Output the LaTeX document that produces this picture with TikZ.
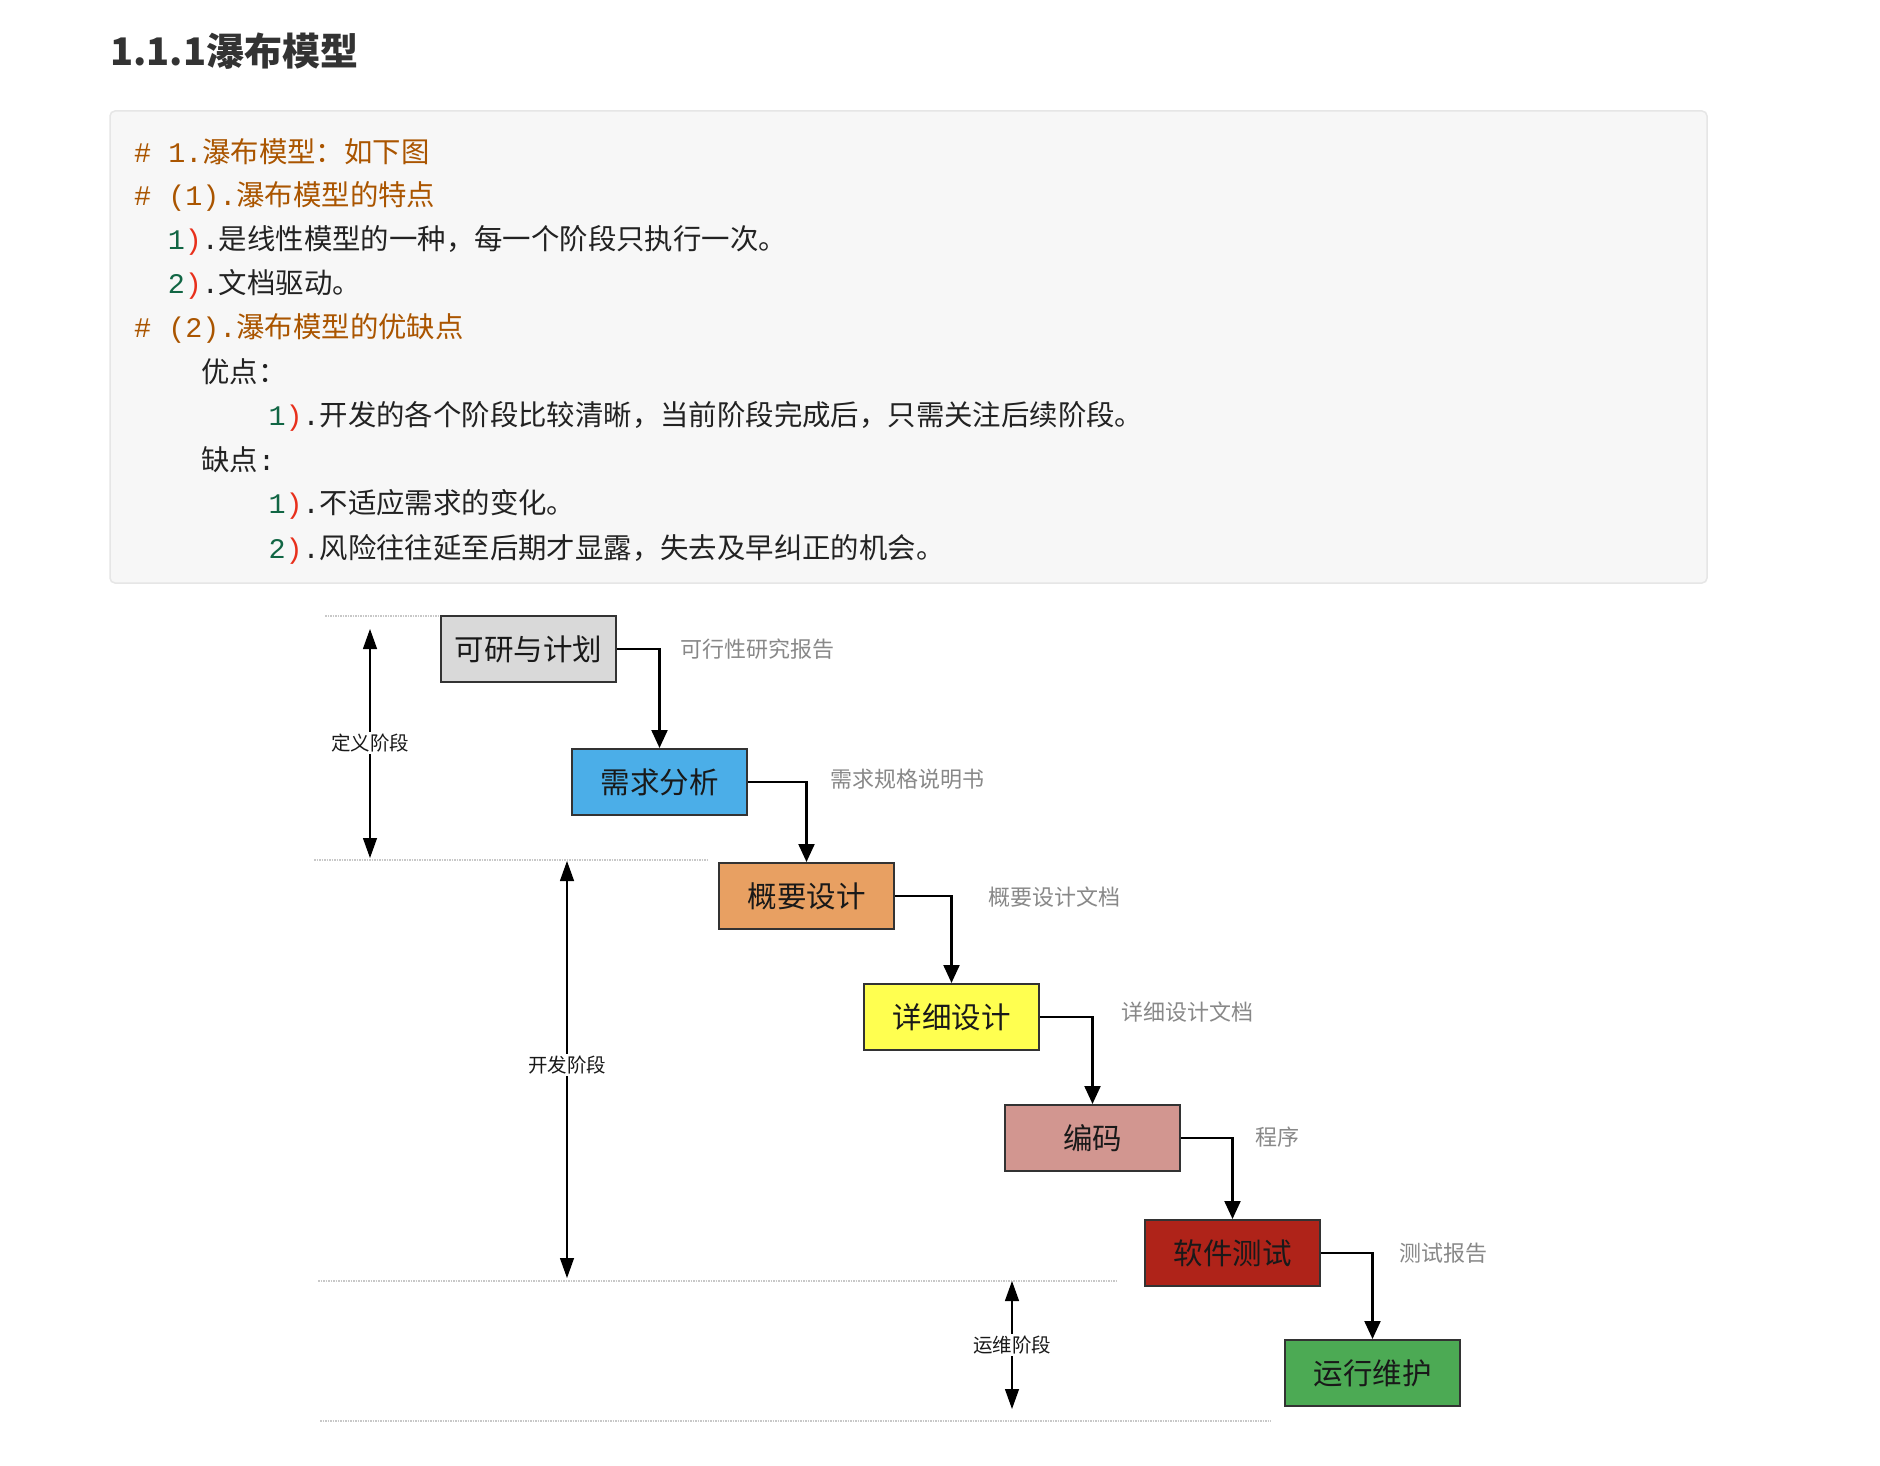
\documentclass[tikz,border=0pt]{standalone}
\usepackage{fontspec}
\setmainfont{Noto Sans CJK SC}
\setmonofont{Liberation Mono}
\usetikzlibrary{arrows.meta}
\definecolor{cmt}{HTML}{AA5500}
\definecolor{num}{HTML}{116644}
\definecolor{brk}{HTML}{E8301C}
\definecolor{codetxt}{HTML}{222222}
\definecolor{codebg}{HTML}{F7F7F7}
\definecolor{codebd}{HTML}{E6E6E6}
\definecolor{titlec}{HTML}{333333}
\definecolor{boxbd}{HTML}{333333}
\definecolor{docgray}{HTML}{888888}
\definecolor{sepgray}{HTML}{C8C8C8}
\definecolor{cgray}{HTML}{D9D9D9}
\definecolor{cblue}{HTML}{4BAEE8}
\definecolor{corange}{HTML}{E8A062}
\definecolor{cyellow}{HTML}{FFFF50}
\definecolor{cpink}{HTML}{D29690}
\definecolor{cred}{HTML}{AF2319}
\definecolor{cgreen}{HTML}{4CAA54}
\newcommand{\fsz}[1]{\fontsize{#1}{#1}\selectfont}
\begin{document}
\begin{tikzpicture}[x=1pt,y=-1pt,
  codeline/.style={anchor=west, inner sep=0pt, text=codetxt, font=\fsz{28.4}},
  box/.style={draw=boxbd, line width=2pt, minimum width=175pt, minimum height=66pt, inner sep=0pt, font=\fsz{29.5}, text=black!90},
  flow/.style={line width=2.2pt, -{Triangle[length=18pt,width=16pt]}},
  doc/.style={anchor=west, text=docgray, font=\fsz{22}, inner sep=0pt},
  phase/.style={line width=1.3pt, {Triangle[length=20pt,width=14pt]}-{Triangle[length=20pt,width=14pt]}},
  plabel/.style={fill=white, font=\fsz{19.5}, inner sep=2pt, text=black!90},
  sep/.style={draw=sepgray, line width=1.5pt, dash pattern=on 1.5pt off 1pt}
]
\useasboundingbox[fill=white] (0,0) rectangle (1880,1466);

% title
\node[anchor=west, inner sep=0pt, text=titlec, font=\fsz{38}\bfseries] (title) at (110,51) {1.1.1瀑布模型};

% code block
\draw[rounded corners=5pt, fill=codebg, draw=codebd, line width=1.5pt] (110,111) rectangle (1707,583);
\node[codeline, text=cmt] (c1) at (134,151.5) {\texttt{\# 1.}瀑布模型：如下图};
\node[codeline, text=cmt] (c2) at (134,196) {\texttt{\# (1).}瀑布模型的特点};
\node[codeline] (c3) at (167.6,240.5) {\texttt{\textcolor{num}{1}\textcolor{brk}{)}.}是线性模型的一种，每一个阶段只执行一次。};
\node[codeline] (c4) at (167.6,284.5) {\texttt{\textcolor{num}{2}\textcolor{brk}{)}.}文档驱动。};
\node[codeline, text=cmt] (c5) at (134,328.5) {\texttt{\# (2).}瀑布模型的优缺点};
\node[codeline] (c6) at (201.2,372) {优点：};
\node[codeline] (c7) at (268.4,416.5) {\texttt{\textcolor{num}{1}\textcolor{brk}{)}.}开发的各个阶段比较清晰，当前阶段完成后，只需关注后续阶段。};
\node[codeline] (c8) at (201.2,460) {缺点\texttt{:}};
\node[codeline] (c9) at (268.4,504.5) {\texttt{\textcolor{num}{1}\textcolor{brk}{)}.}不适应需求的变化。};
\node[codeline] (c10) at (268.4,549) {\texttt{\textcolor{num}{2}\textcolor{brk}{)}.}风险往往延至后期才显露，失去及早纠正的机会。};

% phase separators
\coordinate (s1a) at (325,616);  \coordinate (s1b) at (440,616);
\coordinate (s2a) at (314,860);  \coordinate (s2b) at (707,860);
\coordinate (s3a) at (318,1281); \coordinate (s3b) at (1117,1281);
\coordinate (s4a) at (320,1421); \coordinate (s4b) at (1271,1421);
\draw[sep] (s1a) -- (s1b);
\draw[sep] (s2a) -- (s2b);
\draw[sep] (s3a) -- (s3b);
\draw[sep] (s4a) -- (s4b);

% boxes
\node[box, fill=cgray]   (b1) at (528.5,649)  {可研与计划};
\node[box, fill=cblue]   (b2) at (659.5,782)  {需求分析};
\node[box, fill=corange] (b3) at (806.5,896)  {概要设计};
\node[box, fill=cyellow] (b4) at (951.5,1017) {详细设计};
\node[box, fill=cpink]   (b5) at (1092.5,1138) {编码};
\node[box, fill=cred]    (b6) at (1232.5,1253) {软件测试};
\node[box, fill=cgreen]  (b7) at (1372.5,1373) {运行维护};

% flow connectors
\draw[flow] (b1.east) -| (b2.north);
\draw[flow] (b2.east) -| (b3.north);
\draw[flow] (b3.east) -| (b4.north);
\draw[flow] (b4.east) -| (b5.north);
\draw[flow] (b5.east) -| (b6.north);
\draw[flow] (b6.east) -| (b7.north);

% document labels
\node[doc] (l1) at (680,649)  {可行性研究报告};
\node[doc] (l2) at (830,779)  {需求规格说明书};
\node[doc] (l3) at (988,897)  {概要设计文档};
\node[doc] (l4) at (1121,1012) {详细设计文档};
\node[doc] (l5) at (1255,1137) {程序};
\node[doc] (l6) at (1399,1253) {测试报告};

% phase arrows
\coordinate (p1a) at (370,629);  \coordinate (p1b) at (370,858);
\coordinate (p2a) at (567,861);  \coordinate (p2b) at (567,1278);
\coordinate (p3a) at (1012,1281); \coordinate (p3b) at (1012,1409);
\draw[phase] (p1a) -- (p1b);
\draw[phase] (p2a) -- (p2b);
\draw[phase] (p3a) -- (p3b);
\node[plabel] (pl1) at (370,743)  {定义阶段};
\node[plabel] (pl2) at (567,1065) {开发阶段};
\node[plabel] (pl3) at (1012,1345) {运维阶段};
\end{tikzpicture}
\end{document}
